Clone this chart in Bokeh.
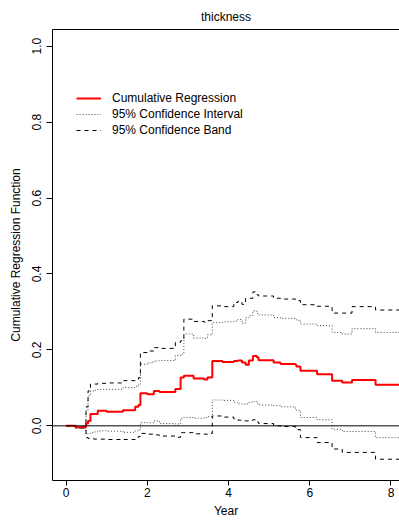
from bokeh.plotting import figure
from bokeh.models import (Range1d, FixedTicker, NumeralTickFormatter, LinearAxis,
                          Span, Legend, LegendItem)
from bokeh.embed import file_html
from bokeh.resources import INLINE

# ---- data ----
years = [0.0, 0.23, 0.49, 0.54, 0.60, 0.68, 0.78, 1.0, 1.4, 1.42, 1.70, 1.78, 1.83,
         2.0, 2.16, 2.3, 2.69, 2.82, 2.90, 3.14, 3.4, 3.48, 3.6, 3.85, 4.13, 4.23,
         4.33, 4.42, 4.50, 4.6, 4.7, 4.74, 5.11, 5.28, 5.65, 5.67, 5.77, 6.18, 6.55,
         6.80, 7.04, 7.62, 8.5]
cum_reg = [0.0, -0.004, 0.006, 0.013, 0.031, 0.031, 0.040, 0.037, 0.041, 0.041, 0.050,
           0.055, 0.086, 0.083, 0.092, 0.089, 0.097, 0.127, 0.132, 0.125, 0.122, 0.127,
           0.171, 0.168, 0.171, 0.172, 0.167, 0.161, 0.172, 0.184, 0.180, 0.173, 0.167,
           0.163, 0.161, 0.156, 0.145, 0.136, 0.119, 0.114, 0.121, 0.108, 0.108]
ci_upper = [0.0, -0.002, 0.04, 0.079, 0.092, 0.094, 0.096, 0.096, 0.101, 0.101, 0.104,
            0.11, 0.162, 0.166, 0.171, 0.172, 0.185, 0.189, 0.242, 0.231, 0.23, 0.24,
            0.272, 0.274, 0.276, 0.28, 0.27, 0.285, 0.29, 0.303, 0.296, 0.292, 0.285,
            0.283, 0.281, 0.278, 0.268, 0.264, 0.246, 0.242, 0.256, 0.246, 0.246]
ci_lower = [0.0, -0.006, -0.022, -0.02, -0.018, -0.016, -0.013, -0.014, -0.018, -0.017,
            -0.013, -0.01, 0.009, 0.008, 0.013, 0.006, 0.005, 0.02, 0.022, 0.02, 0.022,
            0.024, 0.068, 0.067, 0.062, 0.058, 0.057, 0.058, 0.062, 0.064, 0.058, 0.055,
            0.053, 0.05, 0.046, 0.04, 0.022, 0.016, -0.009, -0.015, -0.015, -0.031, -0.031]
band_upper = [0.0, -0.002, 0.05, 0.092, 0.11, 0.11, 0.112, 0.113, 0.119, 0.119, 0.12,
              0.127, 0.193, 0.197, 0.206, 0.204, 0.22, 0.224, 0.281, 0.275, 0.273, 0.277,
              0.316, 0.314, 0.325, 0.328, 0.32, 0.336, 0.336, 0.353, 0.345, 0.342, 0.336,
              0.334, 0.331, 0.33, 0.319, 0.315, 0.297, 0.297, 0.314, 0.305, 0.305]
band_lower = [0.0, -0.006, -0.031, -0.033, -0.033, -0.035, -0.035, -0.036, -0.037, -0.036,
              -0.031, -0.028, -0.02, -0.022, -0.024, -0.027, -0.03, -0.018, -0.018, -0.021,
              -0.022, -0.02, 0.026, 0.023, 0.018, 0.015, 0.013, 0.013, 0.014, 0.016, 0.01,
              0.006, 0.0, -0.002, -0.004, -0.01, -0.031, -0.044, -0.061, -0.07, -0.07,
              -0.088, -0.088]
x_ticks = [0, 2, 4, 6, 8]
y_ticks = [0.0, 0.2, 0.4, 0.6, 0.8, 1.0]

FONT = "Liberation Sans"


def stairs(xs, ys):
    """Expand a right-continuous step function into line vertices."""
    sx, sy = [xs[0]], [ys[0]]
    for i in range(1, len(xs)):
        sx += [xs[i], xs[i]]
        sy += [ys[i - 1], ys[i]]
    return sx, sy


p = figure(width=399, height=521, output_backend="svg", toolbar_location=None,
           x_range=Range1d(-0.335, 8.21), y_range=Range1d(-0.144, 1.044),
           min_border_left=52, min_border_right=0, min_border_top=29,
           min_border_bottom=41)
p.outline_line_color = None
p.xgrid.visible = False
p.ygrid.visible = False
p.background_fill_color = "white"
p.border_fill_color = "white"

p.title.text = "thickness"
p.title.align = "center"
p.title.text_font = FONT
p.title.text_font_size = "12px"
p.title.text_font_style = "normal"
p.title.text_color = "black"
p.title.standoff = 12

for ax in (p.xaxis[0], p.yaxis[0]):
    ax.axis_line_color = "black"
    ax.major_tick_line_color = "black"
    ax.minor_tick_line_color = None
    ax.major_tick_in = 0
    ax.major_tick_out = 6
    ax.major_label_text_font = FONT
    ax.major_label_text_font_size = "12px"
    ax.major_label_text_color = "black"
    ax.axis_label_text_font = FONT
    ax.axis_label_text_font_size = "12px"
    ax.axis_label_text_font_style = "normal"
    ax.axis_label_text_color = "black"

p.xaxis.ticker = FixedTicker(ticks=x_ticks)
p.xaxis.axis_label = "Year"
p.xaxis.major_tick_out = 5
p.xaxis.major_label_standoff = 2
p.xaxis.axis_label_standoff = 4

p.yaxis.ticker = FixedTicker(ticks=y_ticks)
p.yaxis.formatter = NumeralTickFormatter(format="0.0")
p.yaxis.major_label_orientation = "vertical"
p.yaxis.axis_label = "Cumulative Regression Function"
p.yaxis.major_label_standoff = 5
p.yaxis.axis_label_standoff = 7

top_axis = LinearAxis(ticker=FixedTicker(ticks=[]), axis_line_color="black",
                      major_tick_line_color=None, minor_tick_line_color=None)
p.add_layout(top_axis, "above")

p.add_layout(Span(location=0, dimension="width", line_color="black", line_width=1))

DOT = "#444444"
bx, by = stairs(years, band_upper)
r_bu = p.line(bx, by, line_color="black", line_width=1, line_dash="4 4")
bx, by = stairs(years, band_lower)
r_bl = p.line(bx, by, line_color="black", line_width=1, line_dash="4 4")
cx, cy = stairs(years, ci_upper)
r_cu = p.line(cx, cy, line_color=DOT, line_width=1, line_dash="1 2")
cx, cy = stairs(years, ci_lower)
r_cl = p.line(cx, cy, line_color=DOT, line_width=1, line_dash="1 2")
ex, ey = stairs(years, cum_reg)
r_est = p.line(ex, ey, line_color="red", line_width=2)

legend = Legend(items=[LegendItem(label="Cumulative Regression", renderers=[r_est]),
                       LegendItem(label="95% Confidence Interval", renderers=[r_cu]),
                       LegendItem(label="95% Confidence Band", renderers=[r_bu])],
                location=(24, 342), orientation="vertical",
                border_line_color=None, background_fill_alpha=0,
                padding=0, margin=0, spacing=0,
                glyph_width=25, glyph_height=16, label_height=16,
                label_standoff=11, label_text_font=FONT,
                label_text_font_size="12px", label_text_color="black")
p.add_layout(legend, "center")

open("out.html", "w").write(file_html(p, INLINE))
